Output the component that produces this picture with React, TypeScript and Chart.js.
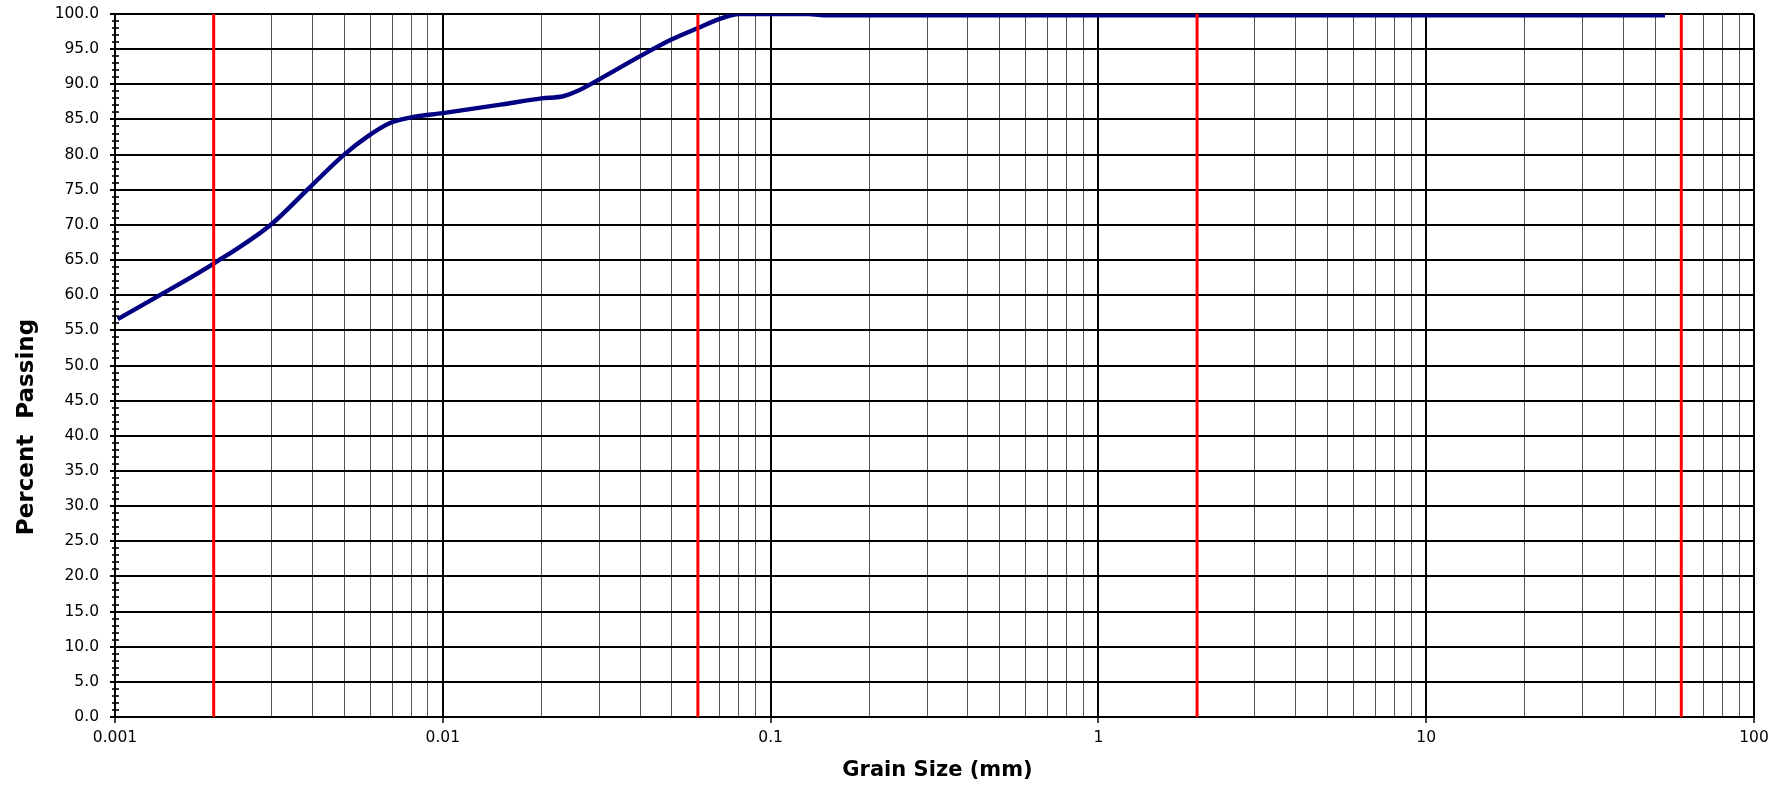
import React, { useEffect, useRef } from 'react';
import { Chart, registerables } from 'chart.js';

Chart.register(...registerables);

// ---- data ----
const grainSizeMm = [
  0.00102, 0.00137, 0.002, 0.003, 0.0039, 0.005, 0.0059, 0.0069, 0.008, 0.01,
  0.015, 0.02, 0.0233, 0.0256, 0.03, 0.04, 0.05, 0.06, 0.07, 0.08, 0.1, 0.13,
  0.15, 53.5,
];
const percentPassing = [
  56.6, 60.0, 64.5, 70.1, 75.2, 80.0, 82.6, 84.5, 85.3, 85.9,
  87.1, 88.0, 88.3, 89.0, 90.7, 94.0, 96.4, 98.0, 99.3, 100, 100, 100,
  99.8, 99.8,
];
const boundarySizesMm = [0.002, 0.06, 2, 60];
const decadeValues = [0.001, 0.01, 0.1, 1, 10, 100];
const decadeLabels = ['0.001', '0.01', '0.1', '1', '10', '100'];
const minorMultipliers = [1, 2, 3, 4, 5, 6, 7, 8, 9];
const yMin = 0;
const yMax = 100;
const yMajorStep = 5;
const yMinorStep = 1;
const X_TITLE = 'Grain Size (mm)';
const Y_TITLE = 'Percent  Passing';

const FONT = '"DejaVu Sans", "Liberation Sans", Arial, sans-serif';

function isDecade(v: number): boolean {
  const l = Math.log10(v);
  return Math.abs(l - Math.round(l)) < 1e-9;
}

function buildXTicks(): number[] {
  const out: number[] = [];
  for (let i = 0; i < decadeValues.length - 1; i++) {
    for (const m of minorMultipliers) {
      out.push(Number((m * decadeValues[i]).toPrecision(6)));
    }
  }
  out.push(decadeValues[decadeValues.length - 1]);
  return out;
}

const annotatePlugin = {
  id: 'annotate',
  afterDraw(chart: any) {
    const { ctx, chartArea } = chart;
    const y = chart.scales.y;
    ctx.save();
    ctx.strokeStyle = '#000';
    for (let v = yMin; v <= yMax; v += yMinorStep) {
      const py = Math.round(y.getPixelForValue(v));
      const major = v % yMajorStep === 0;
      ctx.lineWidth = major ? 2 : 1.6;
      ctx.beginPath();
      ctx.moveTo(chartArea.left - (major ? 5 : 3), py);
      ctx.lineTo(chartArea.left + 4, py);
      ctx.stroke();
    }
    ctx.fillStyle = '#000';
    ctx.textAlign = 'center';
    ctx.textBaseline = 'alphabetic';
    ctx.font = `bold 21px ${FONT}`;
    ctx.fillText(X_TITLE, (chartArea.left + chartArea.right) / 2 + 3, 775.5);
    ctx.translate(33, 427);
    ctx.rotate(-Math.PI / 2);
    ctx.font = `bold 23px ${FONT}`;
    ctx.fillText(Y_TITLE, 0, 0);
    ctx.restore();
  },
};

export default function App() {
  const canvasRef = useRef<HTMLCanvasElement | null>(null);

  useEffect(() => {
    if (!canvasRef.current) return;
    const xTicks = buildXTicks();
    const curve = grainSizeMm.map((x, i) => ({ x, y: percentPassing[i] }));
    const boundaryDatasets = boundarySizesMm.map((b) => ({
      label: `boundary ${b}`,
      data: [
        { x: b, y: yMin },
        { x: b, y: yMax },
      ],
      showLine: true,
      borderColor: '#FF0000',
      borderWidth: 3,
      pointRadius: 0,
      order: 0,
      clip: 0,
    }));

    const chart = new Chart(canvasRef.current, {
      type: 'scatter',
      data: {
        datasets: [
          ...boundaryDatasets,
          {
            label: 'Percent Passing',
            data: curve,
            showLine: true,
            borderColor: '#000080',
            borderWidth: 4.4,
            pointRadius: 0,
            cubicInterpolationMode: 'monotone',
            order: 1,
            clip: 0,
          },
        ] as any,
      },
      options: {
        animation: false,
        responsive: true,
        maintainAspectRatio: false,
        events: [],
        layout: { padding: { left: 0, top: 14, right: 32, bottom: 0 } },
        plugins: {
          legend: { display: false },
          tooltip: { enabled: false },
          title: { display: false },
        },
        scales: {
          x: {
            type: 'logarithmic',
            min: decadeValues[0],
            max: decadeValues[decadeValues.length - 1],
            afterBuildTicks: (scale: any) => {
              scale.ticks = xTicks.map((value) => ({ value }));
            },
            afterFit: (scale: any) => {
              scale.height = 68;
            },
            border: { display: true, color: '#000', width: 2 },
            grid: {
              color: (c: any) => (c.tick && isDecade(c.tick.value) ? '#000' : '#555'),
              lineWidth: (c: any) => (c.tick && isDecade(c.tick.value) ? 2 : 1),
              tickColor: (c: any) => (c.tick && isDecade(c.tick.value) ? '#000' : 'rgba(0,0,0,0)'),
              tickLength: 6,
              tickWidth: 1.5,
            },
            ticks: {
              autoSkip: false,
              maxRotation: 0,
              minRotation: 0,
              padding: 6,
              color: '#000',
              font: { family: FONT, size: 15.5 },
              callback: (value: any) => {
                const idx = decadeValues.findIndex((d) => Math.abs(d - Number(value)) / d < 1e-9);
                return idx >= 0 ? decadeLabels[idx] : '';
              },
            },
          },
          y: {
            type: 'linear',
            min: yMin,
            max: yMax,
            afterFit: (scale: any) => {
              scale.width = 115;
            },
            border: { display: true, color: '#000', width: 2 },
            grid: {
              color: '#000',
              lineWidth: 2,
              drawTicks: true,
              tickLength: 16,
              tickColor: 'rgba(0,0,0,0)',
            },
            ticks: {
              stepSize: yMajorStep,
              padding: 0,
              color: '#000',
              font: { family: FONT, size: 15.5 },
              callback: (value: any) => Number(value).toFixed(1),
            },
          },
        },
      } as any,
      plugins: [annotatePlugin],
    });

    return () => chart.destroy();
  }, []);

  return (
    <div
      style={{
        position: 'absolute',
        left: 0,
        top: 0,
        width: '1786px',
        height: '785px',
        background: '#fff',
      }}
    >
      <canvas ref={canvasRef} />
    </div>
  );
}
